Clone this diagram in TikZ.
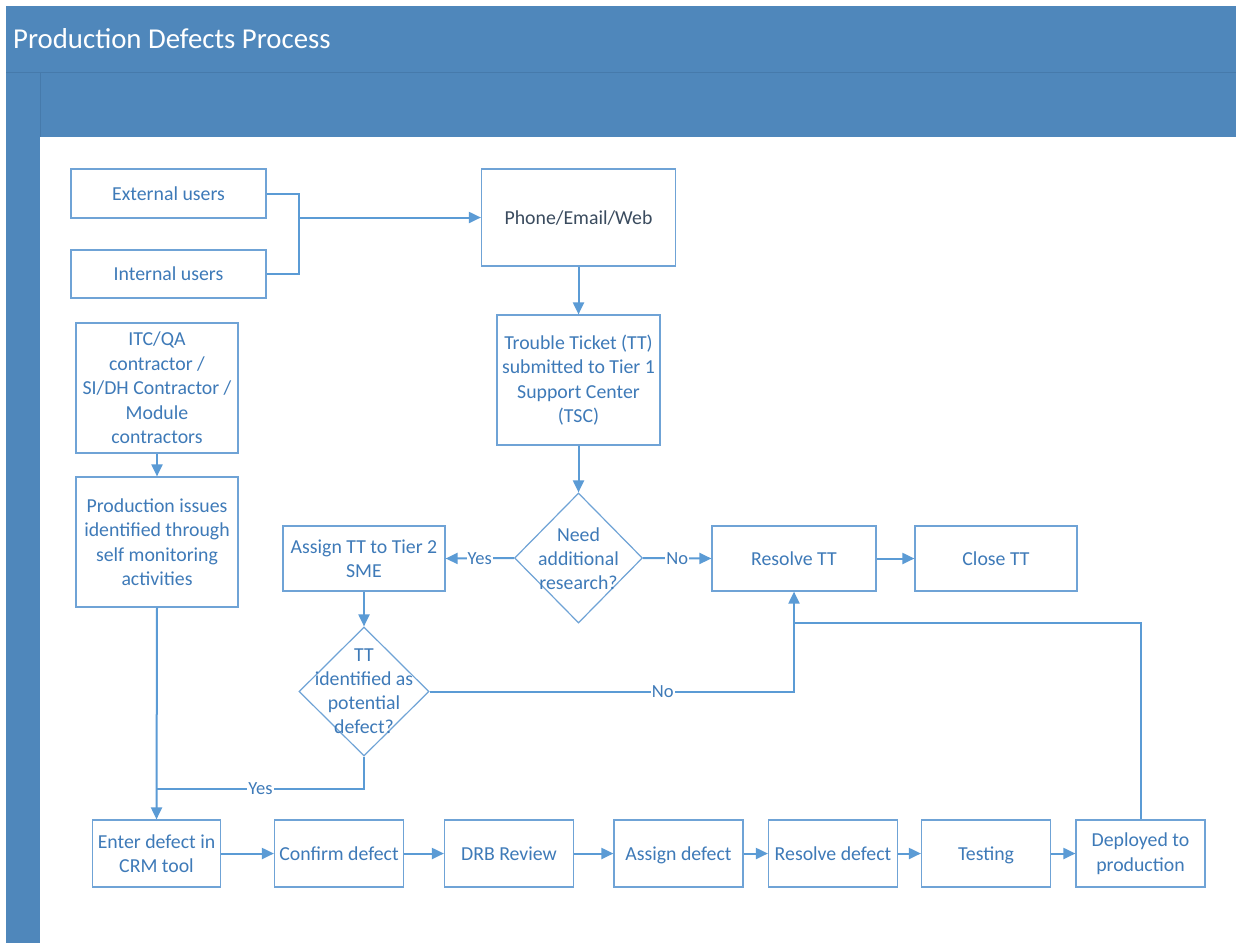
\documentclass[tikz,border=0pt]{standalone}
\usepackage{fontspec}
\setmainfont{Carlito}
\usetikzlibrary{arrows.meta,shapes.geometric,calc}
\definecolor{barblue}{HTML}{4F87BB}
\definecolor{barline}{HTML}{467AAB}
\definecolor{lineblue}{HTML}{5B9BD5}
\definecolor{txtblue}{HTML}{3E7AB8}
\definecolor{boxline}{HTML}{6FA3D6}
\definecolor{darktxt}{HTML}{3A4B5E}
\begin{document}
\begin{tikzpicture}[x=1pt,y=-1pt,
  box/.style={draw=boxline, line width=1.2pt, fill=white, text=txtblue, align=center,
    font=\fontsize{19.8}{24.5}\selectfont, inner sep=0pt},
  one/.style={text height=16.5pt, text depth=3.5pt},
  dia/.style={draw=boxline, line width=1.2pt, fill=white, diamond, inner sep=0pt},
  dtext/.style={text=txtblue, align=center, font=\fontsize{19.8}{24}\selectfont, inner sep=0pt},
  wire/.style={draw=lineblue, line width=2pt},
  conn/.style={wire, -{Triangle[length=12pt,width=11pt]}},
  lab/.style={fill=white, text=txtblue, font=\fontsize{18.5}{20}\selectfont, inner sep=1pt}]
\useasboundingbox (0,0) rectangle (1236,943);
\fill[white] (0,0) rectangle (1236,943);
% frame
\fill[barblue] (6,6) rectangle (1236,943);
\fill[white] (40,137) rectangle (1236,943);
\draw[barline, line width=0.8pt] (6,72) -- (1236,72);
\draw[barline, line width=0.8pt] (40,72) -- (40,137);
\node[anchor=base west, text=white, font=\fontsize{28.8}{32}\selectfont, inner sep=0pt] (title) at (13,48) {Production Defects Process};
% top-left
\node[box, one, minimum width=195pt, minimum height=49pt] (ext) at (168.5,193.5) {External users};
\node[box, one, minimum width=195pt, minimum height=48pt] (int) at (168.5,274) {Internal users};
\node[box, one, minimum width=194pt, minimum height=97pt, text=darktxt] (phone) at (578.5,217.5) {Phone/Email/Web};
\node[box, minimum width=163pt, minimum height=130pt] (tt) at (578.5,380) {Trouble Ticket (TT)\\submitted to Tier 1\\Support Center\\(TSC)};
\node[box, minimum width=162pt, minimum height=130pt] (itc) at (157,388) {ITC/QA\\contractor /\\SI/DH Contractor /\\Module\\contractors};
\node[box, minimum width=162pt, minimum height=130pt] (prod) at (157,542) {Production issues\\identified through\\self monitoring\\activities};
% decisions
\node[dia, minimum width=128pt, minimum height=130pt] (d1) at (578.5,558) {};
\node[dtext] (d1t) at (578.5,559) {Need\\additional\\research?};
\node[box, minimum width=162pt, minimum height=65pt] (asg) at (364,558.5) {Assign TT to Tier 2\\SME};
\node[box, one, minimum width=164pt, minimum height=65pt] (rtt) at (794,558.5) {Resolve TT};
\node[box, one, minimum width=162pt, minimum height=65pt] (close) at (996,558.5) {Close TT};
\node[dia, minimum width=130pt, minimum height=129pt] (d2) at (364,691.5) {};
\node[dtext] (d2t) at (364,691.5) {TT\\identified as\\potential\\defect?};
% bottom row
\node[box, minimum width=128pt, minimum height=67pt] (enter) at (156.5,853.5) {Enter defect in\\CRM tool};
\node[box, one, minimum width=129pt, minimum height=67pt] (conf) at (339,853.5) {Confirm defect};
\node[box, one, minimum width=129pt, minimum height=67pt] (drb) at (509,853.5) {DRB Review};
\node[box, one, minimum width=129pt, minimum height=67pt] (adef) at (678.5,853.5) {Assign defect};
\node[box, one, minimum width=129pt, minimum height=67pt] (rdef) at (833,853.5) {Resolve defect};
\node[box, one, minimum width=129pt, minimum height=67pt] (test) at (986,853.5) {Testing};
\node[box, minimum width=129pt, minimum height=67pt] (dep) at (1140.5,853.5) {Deployed to\\production};
% connectors
\coordinate (jx) at (299,217.5);
\draw[wire] (ext.east) -| (jx);
\draw[wire] (int.east) -| (jx);
\draw[conn] (jx) -- (phone.west);
\draw[conn] (phone.south) -- (tt.north);
\draw[conn] (tt.south) -- (d1.north);
\draw[conn] (itc.south) -- (prod.north);
\draw[conn] (d1.west) -- node[lab]{Yes} (asg.east);
\draw[conn] (d1.east) -- node[lab]{No} (rtt.west);
\draw[conn] (rtt.east) -- (close.west);
\draw[conn] (asg.south) -- (d2.north);
\coordinate (nc) at (rtt.south |- d2.east);
\draw[conn] (d2.east) -- node[lab, pos=0.64]{No} (nc) -- (rtt.south);
\coordinate (yc) at (157,789);
\draw[wire] (d2.south) |- node[lab, pos=0.75]{Yes} (yc);
\draw[conn] (prod.south) -- (enter.north);
\coordinate (fb) at (794,623);
\draw[wire] (dep.north) |- (fb);
\draw[conn] (enter.east) -- (conf.west);
\draw[conn] (conf.east) -- (drb.west);
\draw[conn] (drb.east) -- (adef.west);
\draw[conn] (adef.east) -- (rdef.west);
\draw[conn] (rdef.east) -- (test.west);
\draw[conn] (test.east) -- (dep.west);
\end{tikzpicture}
\end{document}
